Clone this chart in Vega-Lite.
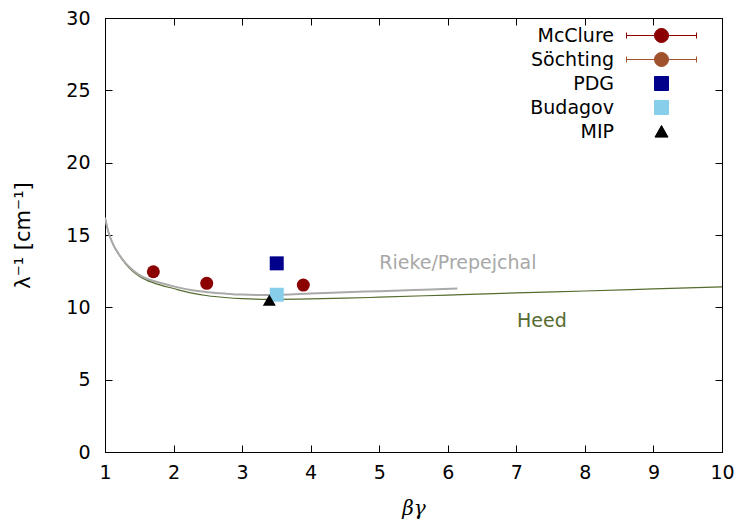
{
  "$schema": "https://vega.github.io/schema/vega-lite/v6.json",
  "width": 617,
  "height": 434,
  "autosize": {"type": "none"},
  "padding": {"left": 105, "top": 18, "right": 20, "bottom": 70},
  "background": "white",
  "config": {
    "view": {"stroke": "black", "strokeWidth": 1},
    "font": "DejaVu Sans",
    "axis": {
      "grid": false,
      "domainColor": "black",
      "tickColor": "black",
      "labelColor": "black",
      "titleColor": "black",
      "labelFont": "DejaVu Sans",
      "labelFontSize": 19,
      "labelFlush": false,
      "tickSize": -7,
      "titleFont": "DejaVu Sans",
      "titleFontSize": 19,
      "titleFontWeight": "normal"
    }
  },
  "datasets": {
    "heed": [
      {"x": 1.0, "y": 16.2}, {"x": 1.05, "y": 15.2}, {"x": 1.1, "y": 14.55}, {"x": 1.15, "y": 14.05},
      {"x": 1.2, "y": 13.65}, {"x": 1.3, "y": 13.0}, {"x": 1.4, "y": 12.5}, {"x": 1.5, "y": 12.15},
      {"x": 1.6, "y": 11.9}, {"x": 1.8, "y": 11.55}, {"x": 2.0, "y": 11.3}, {"x": 2.25, "y": 11.0},
      {"x": 2.5, "y": 10.8}, {"x": 2.75, "y": 10.68}, {"x": 3.0, "y": 10.6}, {"x": 3.4, "y": 10.55},
      {"x": 4.0, "y": 10.58}, {"x": 4.5, "y": 10.63}, {"x": 5.0, "y": 10.7}, {"x": 6.0, "y": 10.85},
      {"x": 7.0, "y": 11.0}, {"x": 8.0, "y": 11.13}, {"x": 9.0, "y": 11.27}, {"x": 10.0, "y": 11.42}
    ],
    "rieke": [
      {"x": 1.0, "y": 16.2}, {"x": 1.05, "y": 15.2}, {"x": 1.1, "y": 14.55}, {"x": 1.2, "y": 13.7},
      {"x": 1.3, "y": 13.05}, {"x": 1.4, "y": 12.6}, {"x": 1.5, "y": 12.25}, {"x": 1.6, "y": 12.0},
      {"x": 1.8, "y": 11.7}, {"x": 2.0, "y": 11.45}, {"x": 2.25, "y": 11.2}, {"x": 2.5, "y": 11.05},
      {"x": 2.75, "y": 10.95}, {"x": 3.0, "y": 10.88}, {"x": 3.4, "y": 10.85}, {"x": 4.0, "y": 10.95},
      {"x": 4.5, "y": 11.05}, {"x": 5.0, "y": 11.12}, {"x": 5.5, "y": 11.2}, {"x": 6.14, "y": 11.3}
    ],
    "points": [
      {"series": "McClure", "x": 1.705, "y": 12.46},
      {"series": "McClure", "x": 2.484, "y": 11.66},
      {"series": "McClure", "x": 3.893, "y": 11.54},
      {"series": "PDG", "x": 3.505, "y": 13.04},
      {"series": "Budagov", "x": 3.505, "y": 10.87},
      {"series": "MIP", "x": 3.397, "y": 10.5}
    ],
    "legendrows": [
      {"series": "McClure"}, {"series": "Söchting"}, {"series": "PDG"}, {"series": "Budagov"}, {"series": "MIP"}
    ],
    "labels": [
      {"label": "Rieke/Prepejchal", "x": 5.0, "y": 13.06, "curve": "Rieke"},
      {"label": "Heed", "x": 7.01, "y": 9.05, "curve": "Heed"}
    ]
  },
  "layer": [
    {
      "data": {"name": "heed"},
      "mark": {"type": "line", "color": "#556b2f", "strokeWidth": 1.2, "interpolate": "monotone", "clip": true},
      "encoding": {
        "x": {"field": "x", "type": "quantitative",
              "scale": {"domain": [1, 10], "nice": false, "zero": false},
              "axis": {"values": [1, 2, 3, 4, 5, 6, 7, 8, 9, 10], "labelPadding": 18, "title": "βγ",
                       "titleFont": "DejaVu Serif", "titleFontStyle": "italic", "titleFontSize": 20, "titlePadding": 16}},
        "y": {"field": "y", "type": "quantitative",
              "scale": {"domain": [0, 30], "nice": false},
              "axis": {"values": [0, 5, 10, 15, 20, 25, 30], "labelPadding": 22, "title": "λ⁻¹ [cm⁻¹]", "titleFontSize": 21, "titlePadding": 32}}
      }
    },
    {
      "data": {"name": "rieke"},
      "mark": {"type": "line", "color": "#aaaaaa", "strokeWidth": 2, "interpolate": "monotone", "clip": true},
      "encoding": {
        "x": {"field": "x", "type": "quantitative",
              "axis": {"orient": "top", "values": [1, 2, 3, 4, 5, 6, 7, 8, 9, 10], "labels": false, "title": null}},
        "y": {"field": "y", "type": "quantitative",
              "axis": {"orient": "right", "values": [0, 5, 10, 15, 20, 25, 30], "labels": false, "title": null}}
      }
    },
    {
      "data": {"name": "points"},
      "transform": [{"filter": "datum.series === 'McClure'"}],
      "mark": {"type": "point", "shape": "circle", "filled": true, "opacity": 1, "size": 169, "color": "#8b0000"},
      "encoding": {
        "x": {"field": "x", "type": "quantitative", "axis": null},
        "y": {"field": "y", "type": "quantitative", "axis": null}
      }
    },
    {
      "data": {"name": "points"},
      "transform": [{"filter": "datum.series === 'PDG'"}],
      "mark": {"type": "point", "shape": "square", "filled": true, "opacity": 1, "size": 196, "color": "#00008b"},
      "encoding": {
        "x": {"field": "x", "type": "quantitative", "axis": null},
        "y": {"field": "y", "type": "quantitative", "axis": null}
      }
    },
    {
      "data": {"name": "points"},
      "transform": [{"filter": "datum.series === 'Budagov'"}],
      "mark": {"type": "point", "shape": "square", "filled": true, "opacity": 1, "size": 196, "color": "#87ceeb"},
      "encoding": {
        "x": {"field": "x", "type": "quantitative", "axis": null},
        "y": {"field": "y", "type": "quantitative", "axis": null}
      }
    },
    {
      "data": {"name": "points"},
      "transform": [{"filter": "datum.series === 'MIP'"}],
      "mark": {"type": "point", "shape": "triangle-up", "filled": true, "opacity": 1, "size": 170, "color": "#000000"},
      "encoding": {
        "x": {"field": "x", "type": "quantitative", "axis": null},
        "y": {"field": "y", "type": "quantitative", "axis": null}
      }
    },
    {
      "data": {"name": "labels"},
      "transform": [{"filter": "datum.curve === 'Rieke'"}],
      "mark": {"type": "text", "align": "left", "baseline": "middle", "fontSize": 19, "font": "DejaVu Sans", "color": "#a8a8a8"},
      "encoding": {
        "x": {"field": "x", "type": "quantitative", "axis": null},
        "y": {"field": "y", "type": "quantitative", "axis": null},
        "text": {"field": "label"}
      }
    },
    {
      "data": {"name": "labels"},
      "transform": [{"filter": "datum.curve === 'Heed'"}],
      "mark": {"type": "text", "align": "left", "baseline": "middle", "fontSize": 19, "font": "DejaVu Sans", "color": "#556b2f"},
      "encoding": {
        "x": {"field": "x", "type": "quantitative", "axis": null},
        "y": {"field": "y", "type": "quantitative", "axis": null},
        "text": {"field": "label"}
      }
    },
    {
      "data": {"name": "legendrows"},
      "mark": {"type": "point", "filled": true, "opacity": 0, "size": 196, "strokeWidth": 1},
      "encoding": {
        "color": {"field": "series", "type": "nominal",
                  "scale": {"domain": ["McClure", "Söchting", "PDG", "Budagov", "MIP"],
                            "range": ["#8b0000", "#a0522d", "#00008b", "#87ceeb", "#000000"]},
                  "legend": {"orient": "none", "legendX": 547, "legendY": 8, "title": null, "labelAlign": "right",
                             "labelOffset": -57, "labelFontSize": 19, "labelFont": "DejaVu Sans", "labelColor": "black",
                             "symbolOpacity": 1, "symbolSize": 196, "symbolStrokeWidth": 1, "padding": 0, "rowPadding": 4, "labelLimit": 0,
                             "encode": {"symbols": {"update": {
                               "fill": {"scale": "color", "field": "value"},
                               "stroke": {"scale": "color", "field": "value"},
                               "opacity": {"value": 1},
                               "strokeWidth": {"value": 1}}}}}},
        "shape": {"field": "series", "type": "nominal",
                  "scale": {"domain": ["McClure", "Söchting", "PDG", "Budagov", "MIP"],
                            "range": [
                              "M-5,0H5M-5,-0.43V0.43M5,-0.43V0.43M1,0A1,1,0,1,1,-1,0A1,1,0,1,1,1,0Z",
                              "M-5,0H5M-5,-0.43V0.43M5,-0.43V0.43M1,0A1,1,0,1,1,-1,0A1,1,0,1,1,1,0Z",
                              "M-1,-1H1V1H-1Z",
                              "M-1,-1H1V1H-1Z",
                              "M0,-0.85L0.93,0.8H-0.93Z"
                            ]},
                  "legend": {"orient": "none", "legendX": 547, "legendY": 8, "title": null, "labelAlign": "right",
                             "labelOffset": -57, "labelFontSize": 19, "labelFont": "DejaVu Sans", "labelColor": "black",
                             "symbolOpacity": 1, "symbolSize": 196, "symbolStrokeWidth": 1, "padding": 0, "rowPadding": 4, "labelLimit": 0}}
      }
    }
  ],
  "resolve": {"axis": {"x": "independent", "y": "independent"}}
}
